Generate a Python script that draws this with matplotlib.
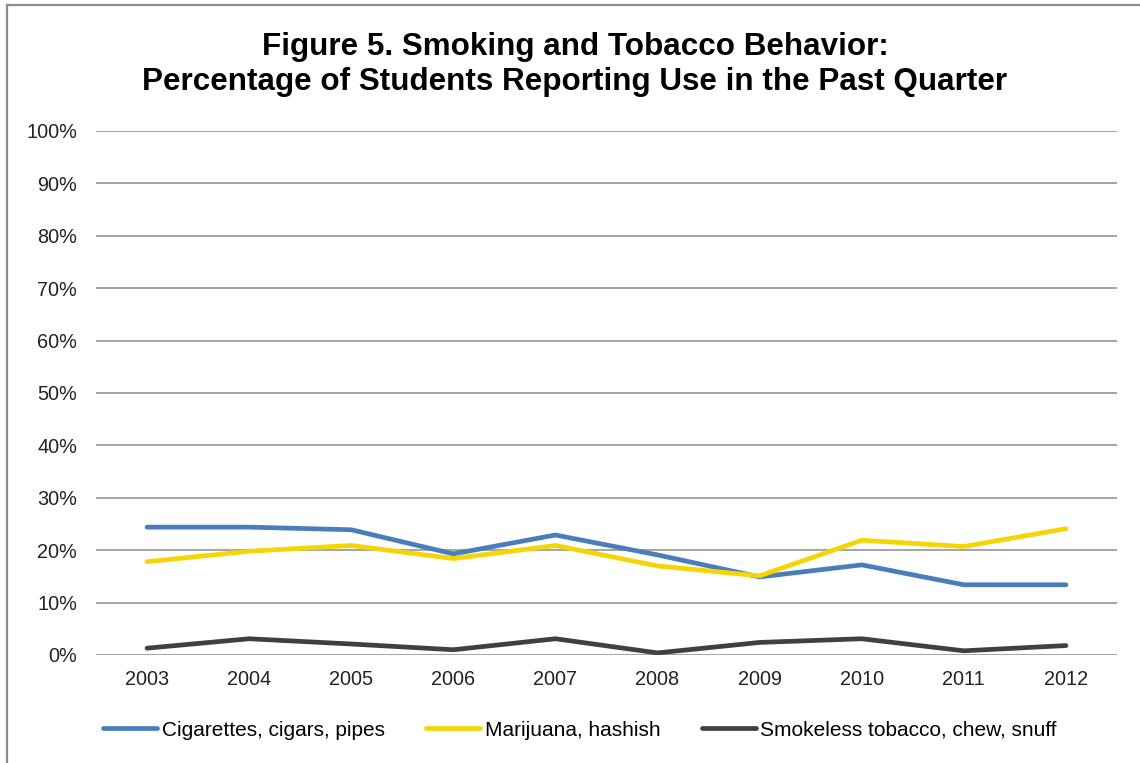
import matplotlib
matplotlib.use("Agg")
import matplotlib.pyplot as plt
from matplotlib.lines import Line2D

years = ["2003", "2004", "2005", "2006", "2007", "2008", "2009", "2010", "2011", "2012"]
cigarettes = [24.4, 24.4, 23.9, 19.3, 22.9, 19.1, 14.9, 17.2, 13.4, 13.4]
marijuana = [17.8, 19.8, 20.9, 18.4, 20.9, 17.0, 15.1, 21.9, 20.7, 24.1]
smokeless = [1.3, 3.1, 2.1, 1.0, 3.1, 0.4, 2.4, 3.1, 0.8, 1.8]
series_names = ["Cigarettes, cigars, pipes", "Marijuana, hashish",
                "Smokeless tobacco, chew, snuff"]
colors = ["#4A7EBB", "#F5D506", "#404040"]

plt.rcParams["font.family"] = ["Liberation Sans", "DejaVu Sans"]

W, H = 1140, 763
fig = plt.figure(figsize=(W / 100, H / 100), dpi=100)

# outer chart frame (left and top edges visible)
fig.add_artist(Line2D([7 / W, 7 / W], [0, 1 - 5 / H], transform=fig.transFigure,
                      color="#8C8C8C", lw=1.6))
fig.add_artist(Line2D([7 / W, 1], [1 - 5 / H, 1 - 5 / H], transform=fig.transFigure,
                      color="#8C8C8C", lw=1.6))

left, right, top, bottom = 96, 1117, 131, 655
ax = fig.add_axes([left / W, 1 - bottom / H, (right - left) / W, (bottom - top) / H])

x = list(range(len(years)))
for vals, c, name in zip([cigarettes, marijuana, smokeless], colors, series_names):
    ax.plot(x, vals, color=c, lw=3.4, solid_capstyle="round", solid_joinstyle="round",
            label=name, zorder=3)

ax.set_xlim(-0.5, len(years) - 0.5)
ax.set_ylim(0, 100)
ax.set_yticks(range(0, 101, 10))
ax.set_yticklabels([f"{v}%" for v in range(0, 101, 10)])
ax.set_xticks(x)
ax.set_xticklabels(years)
ax.grid(axis="y", color="#8C8C8C", lw=1.1)
ax.set_axisbelow(True)
for s in ax.spines.values():
    s.set_visible(False)
ax.tick_params(axis="both", length=0, labelsize=14.3, colors="#222222")
ax.tick_params(axis="y", pad=13.7)
ax.tick_params(axis="x", pad=11)

fig.text(575 / W, 1 - 47 / H, "Figure 5. Smoking and Tobacco Behavior:",
         ha="center", va="center", fontsize=22.6, fontweight="bold")
fig.text(575 / W, 1 - 82 / H, "Percentage of Students Reporting Use in the Past Quarter",
         ha="center", va="center", fontsize=22.6, fontweight="bold")

leg = fig.legend(loc="center", bbox_to_anchor=(580 / W, 1 - 730 / H), ncol=3,
                 frameon=False, fontsize=15, handlelength=2.6, handletextpad=0.2,
                 columnspacing=2.0)

fig.savefig("out.png", dpi=100)
